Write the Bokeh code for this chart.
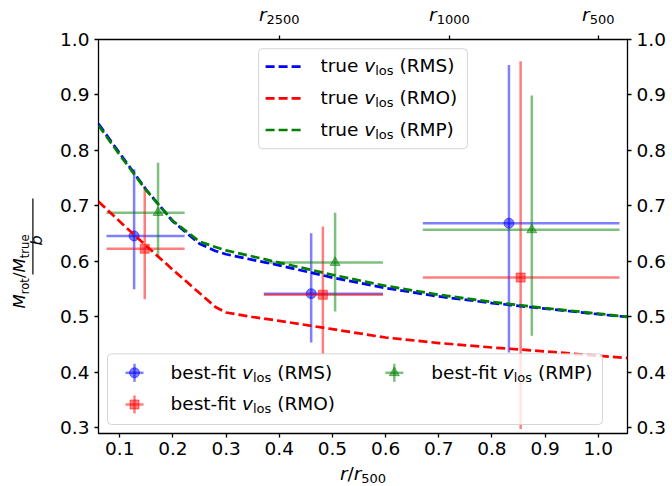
import math
from bokeh.plotting import figure
from bokeh.layouts import row, column
from bokeh.models import (Range1d, LinearAxis, FixedTicker, PrintfTickFormatter,
                          CustomJSTickFormatter, Label, BoxAnnotation)
from bokeh.embed import file_html
from bokeh.resources import INLINE

# ---------------- data ----------------
r_model = [0.06, 0.10, 0.15, 0.20, 0.25, 0.28, 0.30, 0.35, 0.40, 0.50,
           0.60, 0.70, 0.80, 0.90, 1.00, 1.055]
true_rms = [0.848, 0.795, 0.729, 0.672, 0.632, 0.619, 0.613, 0.603, 0.593, 0.571,
            0.552, 0.537, 0.525, 0.515, 0.505, 0.500]
true_rmo = [0.708, 0.672, 0.628, 0.585, 0.543, 0.518, 0.508, 0.500, 0.493, 0.478,
            0.463, 0.453, 0.445, 0.438, 0.430, 0.426]
true_rmp = [0.845, 0.792, 0.728, 0.673, 0.636, 0.626, 0.620, 0.609, 0.598, 0.576,
            0.556, 0.540, 0.527, 0.516, 0.506, 0.500]

bin_lo = [0.075, 0.371, 0.670]
bin_hi = [0.222, 0.595, 1.040]

r_rms = [0.127, 0.460, 0.832]
fit_rms = [0.646, 0.542, 0.669]
rms_lo = [0.550, 0.454, 0.436]
rms_hi = [0.766, 0.651, 0.954]

r_rmo = [0.147, 0.482, 0.854]
fit_rmo = [0.623, 0.540, 0.571]
rmo_lo = [0.532, 0.433, 0.298]
rmo_hi = [0.736, 0.663, 0.961]

r_rmp = [0.172, 0.505, 0.875]
fit_rmp = [0.688, 0.598, 0.657]
rmp_lo = [0.607, 0.510, 0.466]
rmp_hi = [0.778, 0.688, 0.899]

x_ticks = [0.1, 0.2, 0.3, 0.4, 0.5, 0.6, 0.7, 0.8, 0.9, 1.0]
y_ticks = [0.3, 0.4, 0.5, 0.6, 0.7, 0.8, 0.9, 1.0]
top_ticks = [0.40, 0.72, 1.0]
top_tick_labels = ["2500", "1000", "500"]
series_names = ["RMS", "RMO", "RMP"]

# ---------------- styling / layout ----------------
FONT = "DejaVu Sans"
FS = 18.5
SUB = 13.0
SHIFT = 3.0
BASE_FIX = 0.37      # baseline correction (fraction of font size)
BLUE, RED, GREEN = "#0000ff", "#ff0000", "#008000"
X0, X1 = 0.06, 1.055
Y0, Y1 = 0.29, 1.0

TOTAL_W, TOTAL_H = 672, 486
LEFT_W = 54                  # strip holding the y label
MAIN_W = TOTAL_W - LEFT_W    # main plot + top/bottom strips
TOP_H, BOT_H = 27, 23
MAIN_H = TOTAL_H - TOP_H - BOT_H
BL, BR, BT, BB = 44, 45, 12, 30
FW, FH = MAIN_W - BL - BR, MAIN_H - BT - BB
XM, YM = (X0 + X1) / 2, (Y0 + Y1) / 2


def dx(px):
    return px * (X1 - X0) / FW


def dy(px):
    return px * (Y1 - Y0) / FH


xr = Range1d(X0, X1)
p = figure(width=MAIN_W, height=MAIN_H, output_backend="svg", toolbar_location=None,
           title_location=None, x_range=xr, y_range=Range1d(Y0, Y1),
           min_border_left=BL, min_border_right=BR,
           min_border_top=BT, min_border_bottom=BB)
p.grid.visible = False
p.outline_line_color = "black"
p.outline_line_width = 1.3
p.background_fill_color = "white"
p.border_fill_color = "white"


def style_axis(ax, ticks, show_labels=True, standoff=5):
    ax.ticker = FixedTicker(ticks=ticks)
    ax.axis_line_color = None
    ax.major_tick_in = 0
    ax.major_tick_out = 4
    ax.major_tick_line_width = 1.3
    ax.major_tick_line_color = "black"
    ax.minor_tick_line_color = None
    ax.major_label_text_font = FONT
    ax.major_label_text_font_size = f"{FS}px"
    ax.major_label_text_color = "black"
    ax.major_label_standoff = standoff
    if show_labels:
        ax.formatter = PrintfTickFormatter(format="%.1f")
    else:
        ax.formatter = CustomJSTickFormatter(code="return '';")
        ax.major_label_text_font_size = "0px"
        ax.major_label_standoff = 0


style_axis(p.xaxis[0], x_ticks, standoff=4)
style_axis(p.yaxis[0], y_ticks, standoff=5)
right_ax = LinearAxis()
style_axis(right_ax, y_ticks, standoff=5)
p.add_layout(right_ax, "right")
top_ax = LinearAxis()
style_axis(top_ax, top_ticks, show_labels=False)
p.add_layout(top_ax, "above")


def strip(width, height, x_range, y_range, bl=0, br=0):
    f = figure(width=width, height=height, output_backend="svg", toolbar_location=None,
               title_location=None, x_range=x_range, y_range=y_range,
               x_axis_location=None, y_axis_location=None,
               min_border_left=bl, min_border_right=br,
               min_border_top=0, min_border_bottom=0)
    f.grid.visible = False
    f.outline_line_color = None
    f.background_fill_color = "white"
    f.border_fill_color = "white"
    return f


# strips use pixel-based vertical ranges
pt = strip(MAIN_W, TOP_H, xr, Range1d(0, TOP_H), BL, BR)
pb = strip(MAIN_W, BOT_H, xr, Range1d(0, BOT_H), BL, BR)
pl = strip(LEFT_W, TOTAL_H, Range1d(0, LEFT_W), Range1d(0, TOTAL_H))

# ---------------- rich text helper ----------------
EM = {' ': 0.318, '(': 0.390, ')': 0.390, '-': 0.361, '.': 0.318, '/': 0.337,
      'M': 0.863, 'O': 0.787, 'P': 0.603, 'R': 0.695, 'S': 0.635,
      'a': 0.613, 'b': 0.635, 'e': 0.615, 'f': 0.352, 'i': 0.278, 'l': 0.278,
      'o': 0.612, 'r': 0.411, 's': 0.521, 't': 0.392, 'u': 0.634, 'v': 0.592}
for d in "0123456789":
    EM[d] = 0.636


def tw(s, size):
    return sum(EM.get(c, 0.6) for c in s) * size


def rich(fig, parts, x, y, ox, oy, angle=0.0, align="left", rot_dy=0.0):
    total = sum(tw(t, sz) for t, sz, it, sh in parts)
    pos = 0.0 if align == "left" else -total / 2
    for t, sz, it, sh in parts:
        lead = len(t) - len(t.lstrip(" "))
        pos += lead * EM[' '] * sz
        core = t.strip(" ")
        trail = len(t) - lead - len(core)
        corr = BASE_FIX * sz
        if angle == 0:
            xo, yo = ox + pos, oy - sh + corr
        else:
            xo, yo = ox + sh - corr, oy + pos + rot_dy
        fig.add_layout(Label(x=x, y=y, x_units="data", y_units="data",
                             x_offset=xo, y_offset=yo, text=core,
                             text_font=FONT, text_font_size=f"{sz}px",
                             text_font_style="italic" if it else "normal",
                             text_baseline="alphabetic", text_align="left",
                             text_color="black", angle=angle, level="overlay"))
        pos += tw(core, sz) + trail * EM[' '] * sz


def vlos(prefix, name, size=FS):
    return [(prefix + " ", size, False, 0), ("v", size, True, 0),
            ("los", SUB, False, SHIFT), (" (" + name + ")", size, False, 0)]


# ---------------- error bars ----------------
colors = [BLUE, RED, GREEN]
markers = ["circle", "square", "triangle"]
msizes = [10, 9, 10]
fits = [(r_rms, fit_rms, rms_lo, rms_hi), (r_rmo, fit_rmo, rmo_lo, rmo_hi),
        (r_rmp, fit_rmp, rmp_lo, rmp_hi)]
for (rx, fy, lo, hi), c, m, ms in zip(fits, colors, markers, msizes):
    p.segment(x0=bin_lo, y0=fy, x1=bin_hi, y1=fy, line_color=c, line_alpha=0.5, line_width=2.5)
    p.segment(x0=rx, y0=lo, x1=rx, y1=hi, line_color=c, line_alpha=0.5, line_width=2.5)
    p.scatter(rx, fy, marker=m, size=ms, fill_color=c, line_color=c,
              fill_alpha=0.5, line_alpha=0.5)

# ---------------- model curves ----------------
for yv, c in zip([true_rms, true_rmo, true_rmp], colors):
    p.line(r_model, yv, line_color=c, line_width=2.7, line_dash="9 4")

# ---------------- upper legend ----------------
p.add_layout(BoxAnnotation(left=XM - dx(104.4), right=XM + dx(104.4),
                           top=Y1 - dy(9.2), bottom=Y1 - dy(109.2),
                           fill_color="white", fill_alpha=0.8,
                           line_color="#cccccc", line_alpha=0.8, line_width=1,
                           border_radius=4, level="annotation"))
hy = [27.2, 58.8, 90.5]
by = [33.2, 64.8, 96.5]
for k, (c, nm) in enumerate(zip(colors, series_names)):
    p.line([XM - dx(97.4), XM - dx(59.3)], [Y1 - dy(hy[k])] * 2, line_color=c,
           line_width=2.7, line_dash="9 4", level="overlay")
    rich(p, vlos("true", nm), XM, Y1, -42.6, -by[k])

# ---------------- lower legend ----------------
p.add_layout(BoxAnnotation(left=X0 + dx(9), right=X0 + dx(504),
                           top=Y0 + dy(79.7), bottom=Y0 + dy(9),
                           fill_color="white", fill_alpha=0.8,
                           line_color="#cccccc", line_alpha=0.8, line_width=1,
                           border_radius=4, level="annotation"))
slots = [(36.0, 60.7, 72.0, 54.4), (36.0, 29.0, 72.0, 22.7), (295.8, 60.7, 332.8, 54.4)]
for (mx, my, tx, ty), c, m, ms, nm in zip(slots, colors, markers, msizes, series_names):
    cx, cy = X0 + dx(mx), Y0 + dy(my)
    p.segment(x0=[cx - dx(9)], y0=[cy], x1=[cx + dx(9)], y1=[cy], line_color=c,
              line_alpha=0.5, line_width=2.5, level="overlay")
    p.segment(x0=[cx], y0=[cy - dy(9)], x1=[cx], y1=[cy + dy(9)], line_color=c,
              line_alpha=0.5, line_width=2.5, level="overlay")
    p.scatter([cx], [cy], marker=m, size=ms, fill_color=c, line_color=c,
              fill_alpha=0.5, line_alpha=0.5, level="overlay")
    rich(p, vlos("best-fit", nm), X0, Y0, tx, ty)

# ---------------- top tick labels (r_2500, r_1000, r_500) ----------------
for t, lab in zip(top_ticks, top_tick_labels):
    rich(pt, [("r", FS, True, 0), (lab, SUB, False, SHIFT)], t, 0, 0, 6, align="center")

# ---------------- x label ----------------
rich(pb, [("r", FS, True, 0), ("/", FS, False, 0), ("r", FS, True, 0),
          ("500", SUB, False, SHIFT)], XM, 0, 0, 6, align="center")

# ---------------- y label (fraction) ----------------
NUM, NSUB = 16.5, 11.5
num_parts = [("M", NUM, True, 0), ("rot", NSUB, False, SHIFT), ("/", NUM, False, 0),
             ("M", NUM, True, 0), ("true", NSUB, False, SHIFT)]
YC = TOTAL_H - (TOP_H + BT + FH / 2)   # frame centre in the strip's pixel frame
rich(pl, num_parts, 25.6, YC, 0, 0, angle=math.pi / 2, align="center", rot_dy=-35.0)
rich(pl, [("b", 16.0, True, 0)], 41.5, YC, 0, 0, angle=math.pi / 2, align="center",
     rot_dy=-4.0)
L = sum(tw(t, sz) for t, sz, it, sh in num_parts) + 2
pl.segment(x0=[32.4], y0=[YC - L / 2], x1=[32.4], y1=[YC + L / 2],
           line_color="black", line_width=1.2)

layout = row(pl, column(pt, p, pb))
open("out.html", "w").write(file_html(layout, INLINE))
